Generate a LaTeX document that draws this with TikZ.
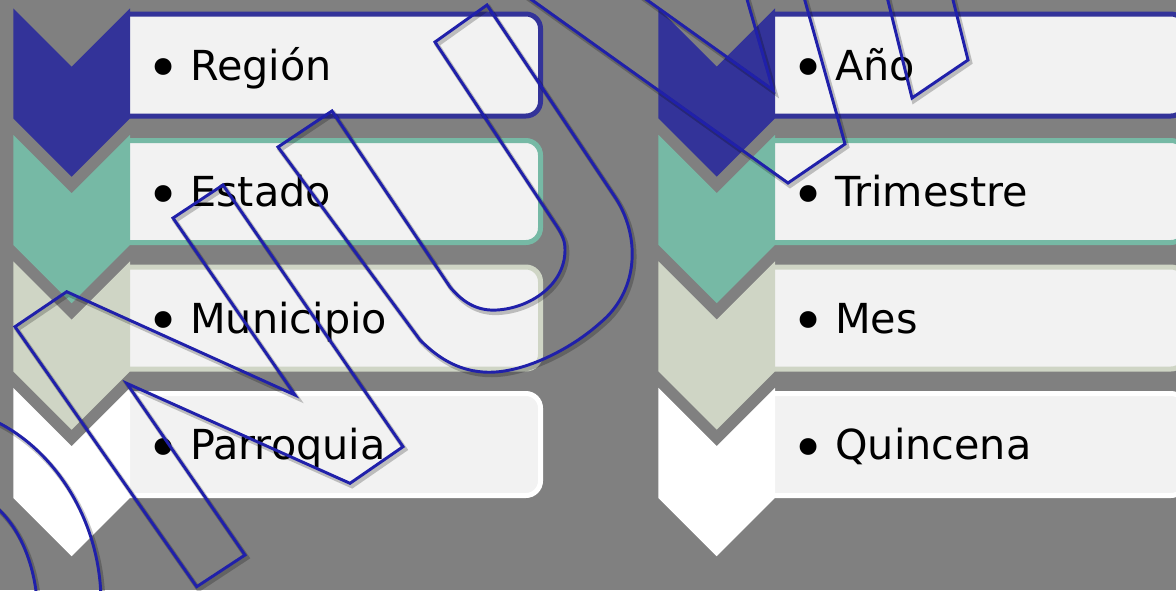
\documentclass[tikz,border=0pt]{standalone}
\usepackage{fontspec}
\setmainfont{DejaVu Sans}
\definecolor{slide}{HTML}{808080}
\definecolor{chevNavy}{HTML}{333399}
\definecolor{chevTeal}{HTML}{76B9A5}
\definecolor{chevSage}{HTML}{CFD5C5}
\definecolor{boxFill}{HTML}{F2F2F2}
\definecolor{inkBlue}{HTML}{2020AA}
\newcommand{\bul}{\raisebox{-6.7pt}{\scalebox{1.4}{•}}\hspace{7.4pt}}
\begin{document}
\begin{tikzpicture}[x=0.75pt, y=-0.75pt,
  lbl/.style={anchor=base west, inner sep=0pt, font=\fontsize{31pt}{36pt}\selectfont},
  bar/.style={fill=boxFill, line width=3.75pt, rounded corners=11pt},
  ink/.style={draw=inkBlue, line width=2.2pt, preaction={draw=black, draw opacity=.22, line width=3.5pt, transform canvas={shift={(1.5pt,-2pt)}}}}]
\useasboundingbox (0,0) rectangle (1176,590);
\clip (0,0) rectangle (1176,590);
\fill[slide] (0,0) rectangle (1176,590);
% left column
\path[bar, draw=chevNavy] (130,14) -- (540.5,14) -- (540.5,116) -- (130,116);
\path[bar, draw=chevTeal] (130,140.5) -- (540.5,140.5) -- (540.5,242.5) -- (130,242.5);
\path[bar, draw=chevSage] (130,267) -- (540.5,267) -- (540.5,369) -- (130,369);
\path[bar, draw=white] (130,393.5) -- (540.5,393.5) -- (540.5,495.5) -- (130,495.5);
\fill[chevNavy] (13.3,8.3) -- ++(58.35,58.35) -- ++(58.35,-58.35) -- ++(0,110) -- ++(-58.35,58.35) -- ++(-58.35,-58.35) -- cycle;
\fill[chevTeal] (13.3,134.8) -- ++(58.35,58.35) -- ++(58.35,-58.35) -- ++(0,110) -- ++(-58.35,58.35) -- ++(-58.35,-58.35) -- cycle;
\fill[chevSage] (13.3,261.3) -- ++(58.35,58.35) -- ++(58.35,-58.35) -- ++(0,110) -- ++(-58.35,58.35) -- ++(-58.35,-58.35) -- cycle;
\fill[white] (13.3,387.8) -- ++(58.35,58.35) -- ++(58.35,-58.35) -- ++(0,110) -- ++(-58.35,58.35) -- ++(-58.35,-58.35) -- cycle;
\node[lbl] (region) at (146,80) {\bul Región};
\node[lbl] (estado) at (146,206.5) {\bul Estado};
\node[lbl] (municipio) at (146,333) {\bul Municipio};
\node[lbl] (parroquia) at (146,459.5) {\bul Parroquia};
% right column
\path[bar, draw=chevNavy] (775,14) -- (1185.5,14) -- (1185.5,116) -- (775,116);
\path[bar, draw=chevTeal] (775,140.5) -- (1185.5,140.5) -- (1185.5,242.5) -- (775,242.5);
\path[bar, draw=chevSage] (775,267) -- (1185.5,267) -- (1185.5,369) -- (775,369);
\path[bar, draw=white] (775,393.5) -- (1185.5,393.5) -- (1185.5,495.5) -- (775,495.5);
\fill[chevNavy] (658.3,8.3) -- ++(58.35,58.35) -- ++(58.35,-58.35) -- ++(0,110) -- ++(-58.35,58.35) -- ++(-58.35,-58.35) -- cycle;
\fill[chevTeal] (658.3,134.8) -- ++(58.35,58.35) -- ++(58.35,-58.35) -- ++(0,110) -- ++(-58.35,58.35) -- ++(-58.35,-58.35) -- cycle;
\fill[chevSage] (658.3,261.3) -- ++(58.35,58.35) -- ++(58.35,-58.35) -- ++(0,110) -- ++(-58.35,58.35) -- ++(-58.35,-58.35) -- cycle;
\fill[white] (658.3,387.8) -- ++(58.35,58.35) -- ++(58.35,-58.35) -- ++(0,110) -- ++(-58.35,58.35) -- ++(-58.35,-58.35) -- cycle;
\node[lbl] (anio) at (791,80) {\bul Año};
\node[lbl] (trimestre) at (791,206.5) {\bul Trimestre};
\node[lbl] (mes) at (791,333) {\bul Mes};
\node[lbl] (quincena) at (791,459.5) {\bul Quincena};
% ink strokes on top
\draw[ink] (435,42) -- (487,5) -- (615,197) .. controls (640,235) and (640,290) .. (600,323) .. controls (570,350) and (520,375) .. (483,372) .. controls (455,370) and (435,355) .. (420,340) -- (278,147) -- (332,111) -- (450,287) .. controls (465,305) and (480,311) .. (497,310) .. controls (530,308) and (565,285) .. (565,250) .. controls (565,240) and (562,235) .. (558,228) -- cycle;
\draw[ink] (66.7,291.7) -- (295,395) -- (173,218) -- (223,185) -- (403,446.7) -- (350,483.3) -- (126.7,383.3) -- (245,555) -- (196.7,586.7) -- (15,326.7) -- cycle;
\draw[ink] (448,-60) -- (788,183) -- (845,144) -- (788,-60) -- (730,-60) -- (773,90) -- (563,-60) -- cycle;
\draw[ink] (873,-60) -- (912,98) -- (968,60) -- (938,-60) -- cycle;
\draw[ink] (-5,421) .. controls (55,450) and (100,520) .. (101,600);
\draw[ink] (-5,506) .. controls (15,523) and (33,555) .. (37,600);
\end{tikzpicture}
\end{document}
